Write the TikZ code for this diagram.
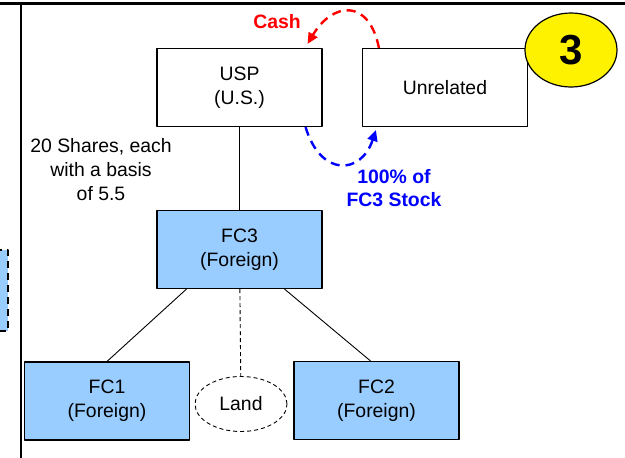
\documentclass[tikz,border=0pt]{standalone}
\usepackage{fontspec}
\setmainfont{Liberation Sans}
\usetikzlibrary{arrows.meta,shapes.geometric}
\definecolor{boxblue}{RGB}{153,204,255}

\begin{document}
\begin{tikzpicture}[x=1pt, y=-1pt, line join=round,
  font=\fontsize{19.4}{24}\selectfont,
  entity/.style={draw, line width=1.1pt, minimum width=165pt, minimum height=78pt, align=center, inner sep=0pt},
  foreign/.style={entity, fill=boxblue},
  flow/.style={line width=2.4pt, dash pattern=on 9pt off 6pt, -{Triangle[length=11pt,width=10pt]}},
  link/.style={line width=0.9pt},
  boldlabel/.style={align=center, font=\fontsize{19.4}{23}\selectfont\bfseries}]
\useasboundingbox (0,0) rectangle (625,458);

% frame of the slide
\draw[line width=3pt] (0,3) -- (625,3);
\draw[line width=2pt] (20.5,3) -- (20.5,458);
% piece of a box cut off at the left
\draw[fill=boxblue, line width=2pt, dash pattern=on 7pt off 5pt] (-5,250) -- (8,250) -- (8,331) -- (-5,331);

% companies
\node[entity] (usp) at (239.5,87.5) {USP\\(U.S.)};
\node[entity] (unrel) at (445,87.5) {Unrelated};
\node[foreign] (fc3) at (239.5,249.5) {FC3\\(Foreign)};
\node[foreign] (fc1) at (107,401) {FC1\\(Foreign)};
\node[foreign] (fc2) at (376.5,400.5) {FC2\\(Foreign)};
\node[ellipse, draw, dash pattern=on 4pt off 3pt, line width=0.9pt, minimum width=92pt, minimum height=55pt, inner sep=0pt] (land) at (241,404) {Land};

% number badge
\node[ellipse, draw, line width=1.2pt, fill=yellow, minimum width=92pt, minimum height=74pt, inner sep=0pt, font=\fontsize{42}{42}\selectfont\bfseries] (num) at (571,50) {3};

% ownership lines
\draw[link] (usp) -- (fc3);
\draw[link] ([xshift=-53pt]fc3.south) -- (fc1.north);
\draw[link] ([xshift=45pt]fc3.south) -- ([xshift=-6pt]fc2.north);
\draw[link, dash pattern=on 4pt off 3pt] (fc3) -- (land);

% the exchange
\draw[flow, red] ([xshift=17pt]unrel.north west) .. controls +(-10,-50) and +(25,-42) .. ([xshift=-15pt,yshift=4pt]usp.north east);
\draw[flow, blue] ([xshift=-17pt]usp.south east) .. controls +(15,50) and +(-15,45) .. ([xshift=14pt,yshift=-3pt]unrel.south west);

% labels
\node[boldlabel, red] (cash) at (277,22) {Cash};
\node[boldlabel, blue] (stock) at (394,188) {100\% of\\FC3 Stock};
\node[align=center] (shares) at (101,170) {20 Shares, each\\with a basis\\of 5.5};

\end{tikzpicture}
\end{document}
